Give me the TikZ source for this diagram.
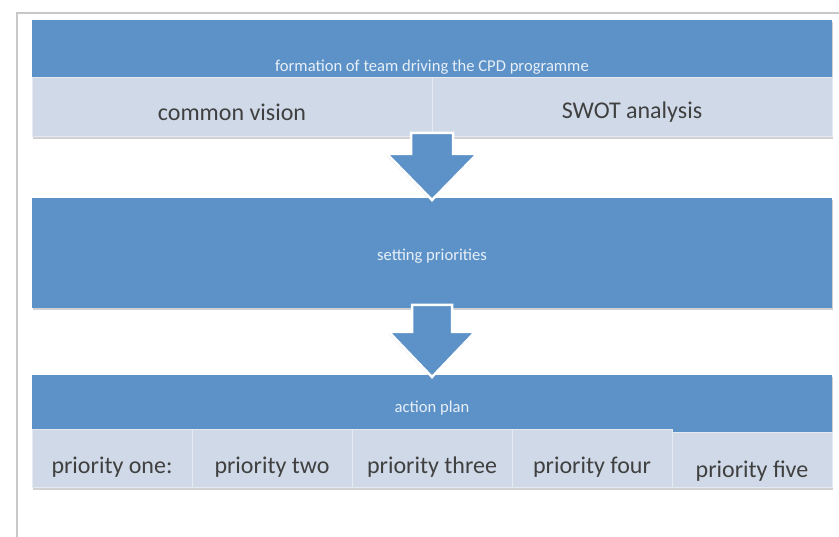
\documentclass[tikz,border=0pt]{standalone}
\usepackage{fontspec}
\setmainfont{Carlito}
\usetikzlibrary{shadows}
\definecolor{bandblue}{HTML}{5D92C8}
\definecolor{rowgrey}{HTML}{CFD9E7}
\definecolor{textgrey}{HTML}{404040}
\definecolor{framegrey}{HTML}{C8C8C8}
\tikzset{
	softshadow/.style={drop shadow={shadow xshift=.5pt, shadow yshift=-2.5pt, fill=black!45, opacity=.4}},
	band/.style={fill=bandblue, draw=none, softshadow},
	cell/.style={fill=rowgrey, draw=white!45!rowgrey, line width=1pt, softshadow},
	bandtext/.style={text=white!85!bandblue, font=\fontsize{16.6}{17}\selectfont},
	celltext/.style={text=textgrey, font=\fontsize{24}{24}\selectfont},
	downarrow/.style={fill=bandblue, draw=white, line width=2.5pt, line join=miter,
		drop shadow={shadow xshift=-.5pt, shadow yshift=-1.5pt, fill=black!45, opacity=.35}}
}
\begin{document}
\begin{tikzpicture}[x=1pt, y=-1pt]
	\useasboundingbox (0,0) rectangle (839,537);
	\fill[white] (0,0) rectangle (839,537);
	\draw[framegrey, line width=2pt] (17,537) -- (17,13) -- (839,13);
	%team
	\draw[band] (432,67)  node[bandtext] (formation) {formation of team driving the CPD programme} ++(-400,-47) rectangle ++(800,58);
	\draw[cell] (232,112) node[celltext] (vision) {common vision} ++(-200,-34) rectangle ++(400,59);
	\draw[cell] (632,112) node[celltext] (swot)   {SWOT analysis} ++(-200,-34) rectangle ++(400,59);
	%priorities
	\draw[band] (432,256) node[bandtext] (setting) {setting priorities} ++(-400,-58) rectangle ++(800,110);
	%plan
	\draw[band] (432,408) node[bandtext] (action) {action plan} ++(-400,-33) rectangle ++(800,58);
	\draw[cell] (112,467) node[celltext] (prio1) {priority one:}   ++(-80,-37) rectangle ++(160,58);
	\draw[cell] (272,467) node[celltext] (prio2) {priority two}    ++(-80,-37) rectangle ++(160,58);
	\draw[cell] (432,467) node[celltext] (prio3) {priority three}  ++(-80,-37) rectangle ++(160,58);
	\draw[cell] (592,467) node[celltext] (prio4) {priority four}   ++(-80,-37) rectangle ++(160,58);
	\draw[cell] (752,471) node[celltext] (prio5) {priority five}   ++(-80,-38) rectangle ++(160,55);
	%arrows
	\draw[downarrow] (formation |- 0,133) ++(-21,0) -- ++(0,21) -- ++(-24,0) -- ++(45,46) -- ++(45,-46) -- ++(-24,0) -- ++(0,-21) -- cycle;
	\draw[downarrow] (setting |- 0,305)   ++(-20,0) -- ++(0,27) -- ++(-23,0) -- ++(43,45) -- ++(43,-45) -- ++(-23,0) -- ++(0,-27) -- cycle;
\end{tikzpicture}
\end{document}
